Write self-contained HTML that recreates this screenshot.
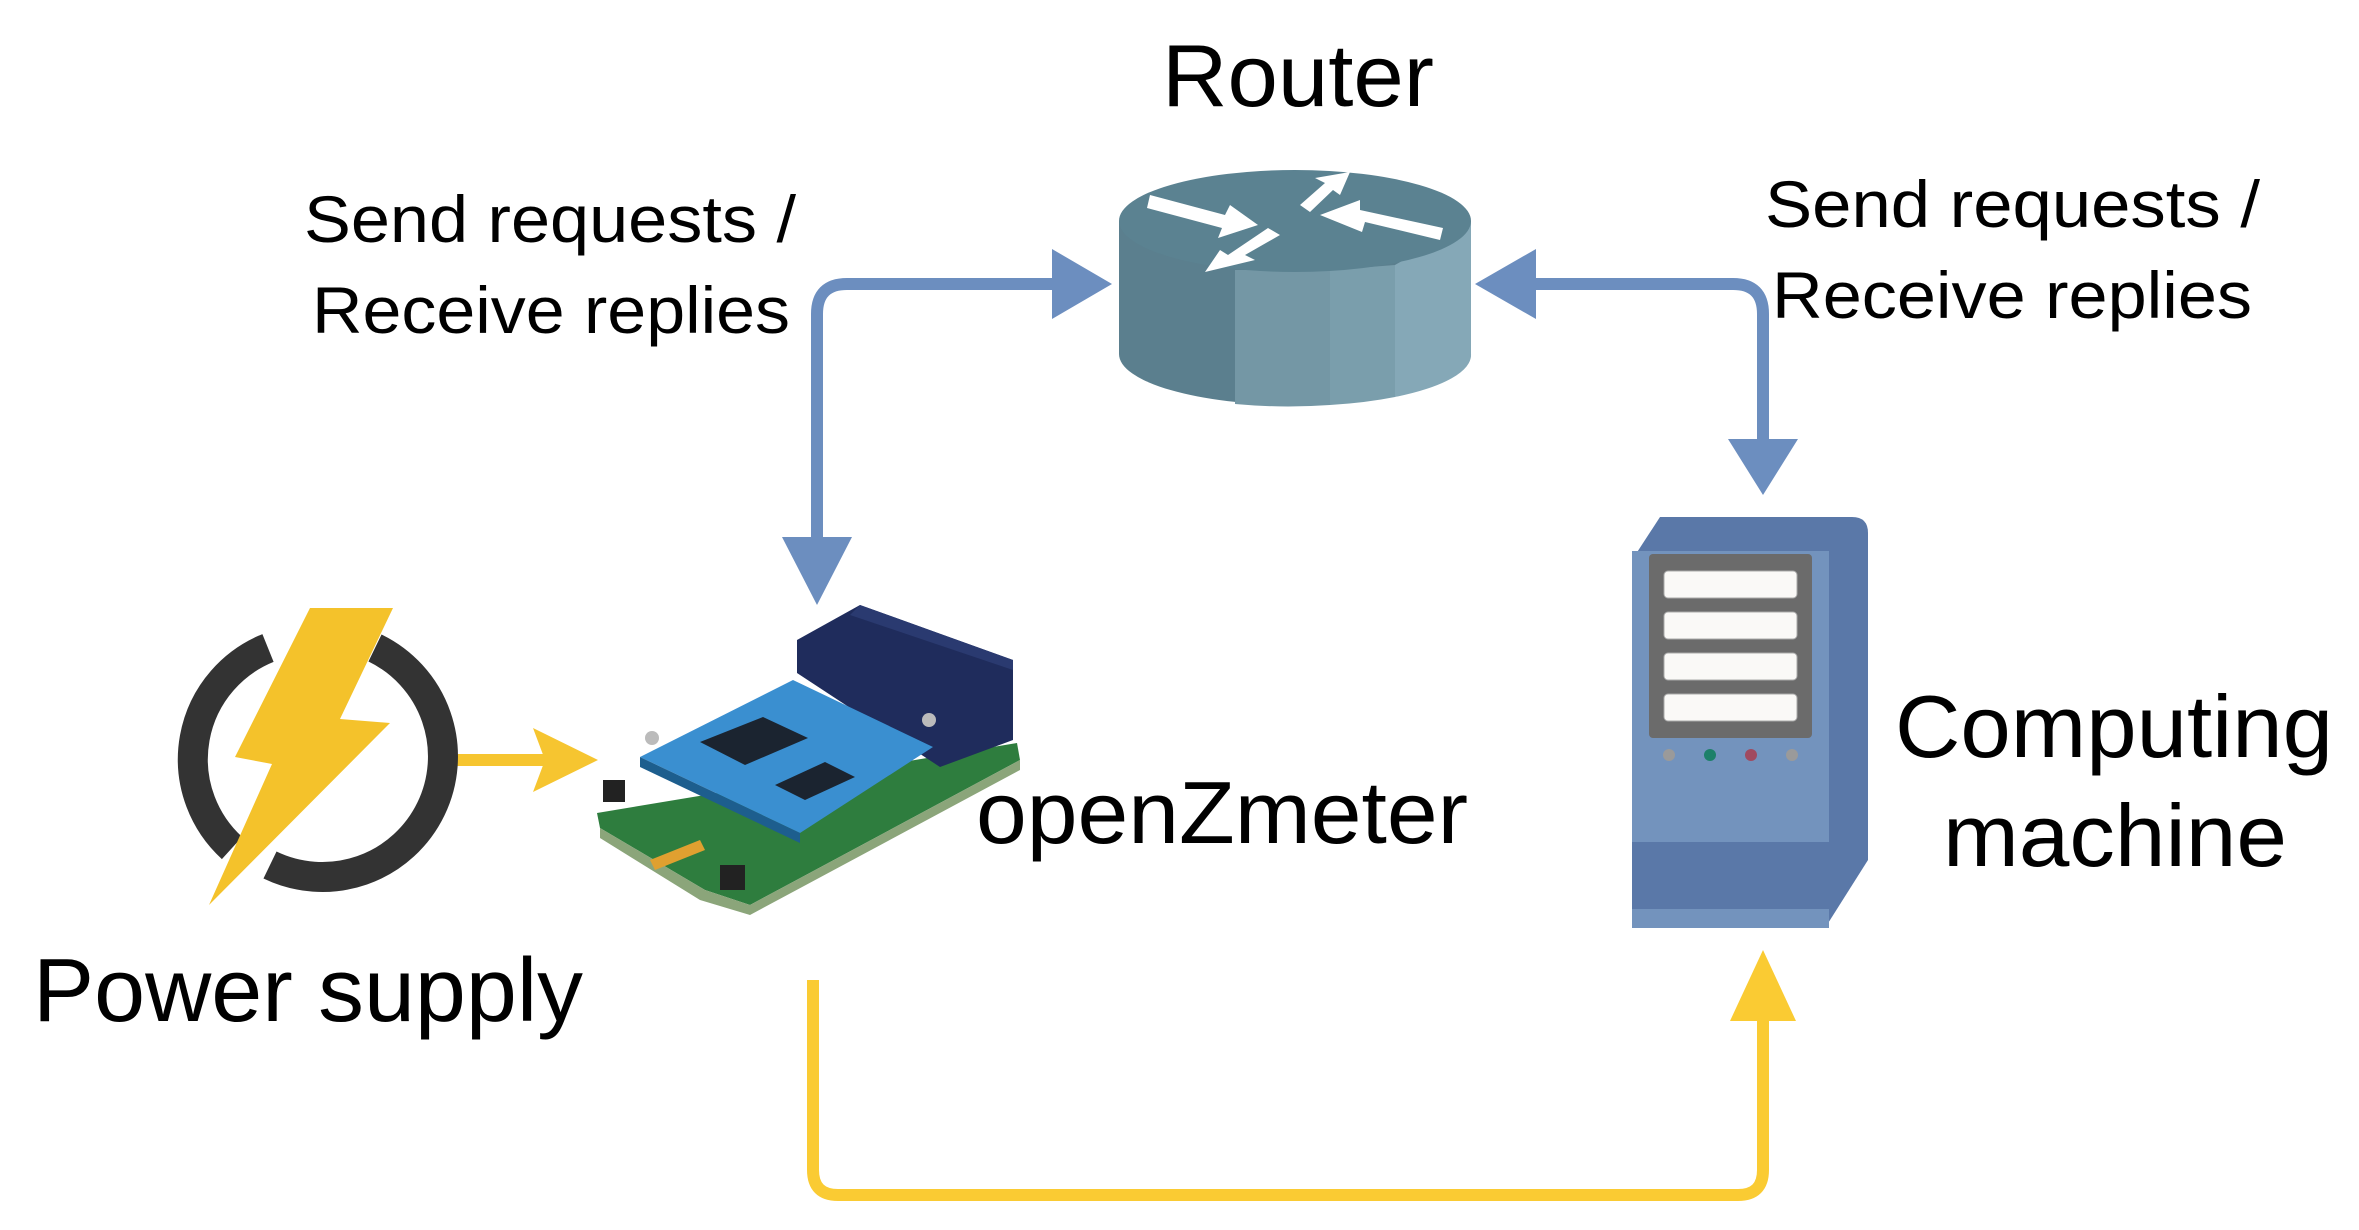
<!DOCTYPE html>
<html><head><meta charset="utf-8"><style>
html,body{margin:0;padding:0;background:#fff;width:2359px;height:1230px;overflow:hidden}
svg{display:block}
text{font-family:"Liberation Sans",sans-serif;fill:#000}
</style></head><body>
<svg width="2359" height="1230" viewBox="0 0 2359 1230" xmlns="http://www.w3.org/2000/svg">
<!-- Router -->
<text x="1162" y="106" font-size="88" textLength="272" lengthAdjust="spacingAndGlyphs">Router</text>
<path d="M1119,221 V354 A176,51 0 0 0 1471,354 V221 Z" fill="#5B7F8E"/>
<path d="M1235,270 L1235,404 A176,51 0 0 0 1330,405 L1330,270 Z" fill="#7497A5"/>
<path d="M1330,270 L1330,405 A176,51 0 0 0 1395,397 L1395,265 Z" fill="#7A9EAC"/>
<path d="M1395,265 L1395,397 A176,51 0 0 0 1471,354 L1471,221 Z" fill="#85A8B7"/>
<ellipse cx="1295" cy="221" rx="176" ry="51" fill="#5B8291"/>
<g fill="#fff">
<polygon points="1150,195 1225,215 1230,205 1258,225 1218,238 1222,228 1147,208"/>
<polygon points="1300,205 1325,183 1315,178 1350,172 1340,195 1333,190 1310,212"/>
<polygon points="1440,240 1365,222 1362,232 1320,215 1360,200 1360,210 1443,228"/>
<polygon points="1280,235 1245,255 1255,260 1205,272 1220,250 1228,255 1268,228"/>
</g>
<!-- labels -->
<text x="304" y="242" font-size="66" textLength="492" lengthAdjust="spacingAndGlyphs">Send requests /</text>
<text x="312" y="333" font-size="66" textLength="478" lengthAdjust="spacingAndGlyphs">Receive replies</text>
<text x="1765" y="227" font-size="66" textLength="495" lengthAdjust="spacingAndGlyphs">Send requests /</text>
<text x="1772" y="318" font-size="66" textLength="480" lengthAdjust="spacingAndGlyphs">Receive replies</text>
<!-- blue connectors -->
<g stroke="#6C8EBF" stroke-width="12" fill="none">
<path d="M1055,284 H847 Q817,284 817,314 V545"/>
<path d="M1533,284 H1733 Q1763,284 1763,314 V445"/>
</g>
<g fill="#6C8EBF">
<polygon points="1112,284 1052,249 1052,319"/>
<polygon points="817,605 782,537 852,537"/>
<polygon points="1475,284 1536,249 1536,319"/>
<polygon points="1763,495 1728,439 1798,439"/>
</g>
<!-- yellow connectors -->
<path d="M813,980 V1170 Q813,1195 838,1195 H1738 Q1763,1195 1763,1170 V1015" stroke="#FACB33" stroke-width="12" fill="none"/>
<polygon points="1763,950 1730,1021 1796,1021" fill="#FACB33"/>
<line x1="446" y1="760" x2="545" y2="760" stroke="#F6C530" stroke-width="12"/>
<polygon points="598,760 533,728 545,760 533,792" fill="#F6C530"/>
<!-- power symbol -->
<path d="M268,648 A120,120 0 0 0 232,848" stroke="#333" stroke-width="30" fill="none"/>
<path d="M270,865 A120,120 0 0 0 375,648" stroke="#333" stroke-width="30" fill="none"/>
<polygon points="310,608 393,608 340,719 390,723 209,905 272,764 235,757" fill="#F4C22B"/>
<text x="33" y="1021" font-size="90" textLength="550" lengthAdjust="spacingAndGlyphs">Power supply</text>
<!-- PCB -->
<polygon points="597,813 1017,743 1020,760 750,905 705,890 600,828" fill="#2E7D3E"/>
<polygon points="600,828 705,890 750,905 1020,760 1020,770 750,915 700,900 600,838" fill="#8BA57A"/>
<polygon points="797,640 860,605 1013,660 1013,740 940,767 797,673" fill="#1F2C5C"/>
<polygon points="860,605 1013,660 1013,670 850,615" fill="#2A3A70"/>
<polygon points="640,757 793,680 933,747 800,833" fill="#3A8FD0"/>
<polygon points="640,757 800,833 800,843 640,767" fill="#1D5E8E"/>
<polygon points="700,742 763,717 808,738 745,765" fill="#1B2430"/>
<polygon points="775,785 825,762 855,777 805,800" fill="#1B2430"/>
<rect x="603" y="780" width="22" height="22" fill="#222"/>
<rect x="720" y="865" width="25" height="25" fill="#222"/>
<circle cx="652" cy="738" r="7" fill="#bbb"/>
<circle cx="929" cy="720" r="7" fill="#bbb"/>
<polygon points="650,860 700,840 705,850 655,870" fill="#E0A030"/>
<text x="976" y="843" font-size="88" textLength="492" lengthAdjust="spacingAndGlyphs">openZmeter</text>
<!-- Server -->
<path d="M1660,517 H1852 Q1868,517 1868,533 V860 L1825,928 H1640 Q1632,928 1632,920 V560 Z" fill="#5A78A8"/>
<rect x="1632" y="551" width="197" height="291" fill="#7393BD"/>
<rect x="1632" y="909" width="197" height="19" fill="#7393BD"/>
<rect x="1649" y="554" width="163" height="184" rx="4" fill="#6B6B6B"/>
<g fill="#FAF9F7" stroke="#aaa" stroke-width="1">
<rect x="1664" y="571" width="133" height="27" rx="4"/>
<rect x="1664" y="612" width="133" height="27" rx="4"/>
<rect x="1664" y="653" width="133" height="27" rx="4"/>
<rect x="1664" y="694" width="133" height="27" rx="4"/>
</g>
<circle cx="1669" cy="755" r="6" fill="#9a9a9a"/>
<circle cx="1710" cy="755" r="6" fill="#1D8069"/>
<circle cx="1751" cy="755" r="6" fill="#A04A60"/>
<circle cx="1792" cy="755" r="6" fill="#9a9a9a"/>
<text x="1895" y="757" font-size="88" textLength="438" lengthAdjust="spacingAndGlyphs">Computing</text>
<text x="1943" y="866" font-size="88" textLength="344" lengthAdjust="spacingAndGlyphs">machine</text>
</svg>
</body></html>
